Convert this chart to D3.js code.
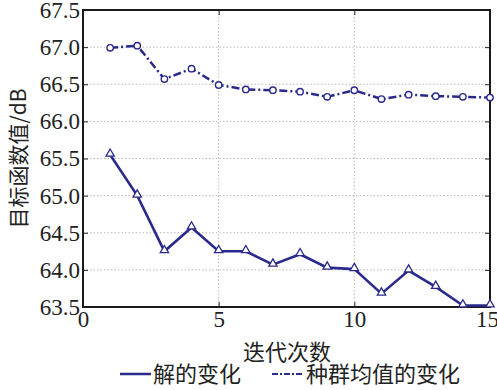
<!DOCTYPE html>
<html>
<head>
<meta charset="utf-8">
<script src="https://cdn.jsdelivr.net/npm/d3@7"></script>
<style>
  body { margin: 0; background: #fff; }
  svg text.num { font-family: "Liberation Serif", "Times New Roman", serif; }
</style>
</head>
<body>
<div id="chart"></div>
<script>
// donnees
var iterations = [1, 2, 3, 4, 5, 6, 7, 8, 9, 10, 11, 12, 13, 14, 15];
var solution = [65.55, 65.0, 64.25, 64.57, 64.25, 64.25, 64.07, 64.21, 64.03, 64.01, 63.68, 63.99, 63.77, 63.52, 63.52];
var popMean = [66.99, 67.02, 66.57, 66.71, 66.49, 66.43, 66.42, 66.40, 66.33, 66.42, 66.30, 66.36, 66.34, 66.33, 66.32];
var xTicks = [0, 5, 10, 15];
var yTicks = [63.5, 64.0, 64.5, 65.0, 65.5, 66.0, 66.5, 67.0, 67.5];
var seriesNames = ["解的变化", "种群均值的变化"];

var W = 497, H = 390;
var margin = {top: 10, right: 7, bottom: 83, left: 83};
var width = W - margin.left - margin.right,
    height = H - margin.top - margin.bottom;
var navy = "#2a2a8c";
var serif = "Liberation Serif";

var svg = d3.select("#chart").append("svg")
    .attr("width", W)
    .attr("height", H);

var g = svg.append("g")
    .attr("transform", "translate(" + margin.left + "," + margin.top + ")");

var x = d3.scaleLinear().domain([0, 15]).range([0, width]);
var y = d3.scaleLinear().domain([63.5, 67.5]).range([height, 0]);

// grille pointillee
g.append("g").selectAll("line")
    .data(yTicks.slice(1, -1))
    .enter().append("line")
    .attr("x1", 0).attr("x2", width)
    .attr("y1", function(d) { return y(d); })
    .attr("y2", function(d) { return y(d); })
    .attr("stroke", "#b8b8b8").attr("stroke-width", 1)
    .attr("stroke-dasharray", "1.5,2");
g.append("g").selectAll("line")
    .data(xTicks.slice(1, -1))
    .enter().append("line")
    .attr("y1", 0).attr("y2", height)
    .attr("x1", function(d) { return x(d); })
    .attr("x2", function(d) { return x(d); })
    .attr("stroke", "#b8b8b8").attr("stroke-width", 1)
    .attr("stroke-dasharray", "1.5,2");

// axes
var fmt = d3.format(".1f");
var yAxis = g.append("g")
    .call(d3.axisLeft(y).tickValues(yTicks).tickFormat(fmt).tickSize(-5).tickPadding(3));
var yAxisR = g.append("g")
    .attr("transform", "translate(" + width + ",0)")
    .call(d3.axisRight(y).tickValues(yTicks).tickFormat("").tickSize(-5));
var xAxis = g.append("g")
    .attr("transform", "translate(0," + height + ")")
    .call(d3.axisBottom(x).tickValues(xTicks).tickSize(-5).tickPadding(4));
var xAxisT = g.append("g")
    .call(d3.axisTop(x).tickValues(xTicks).tickFormat("").tickSize(-5));

[yAxis, yAxisR, xAxis, xAxisT].forEach(function(a) {
    a.select(".domain").remove();
    a.attr("font-family", serif).attr("font-size", 23);
    a.selectAll(".tick line").attr("stroke", "#222");
});
g.selectAll(".tick text")
    .attr("class", "num")
    .attr("fill", "#222")
    .attr("font-family", serif)
    .attr("font-size", 23);
xAxis.selectAll(".tick text").attr("dy", "0.68em");
xAxis.selectAll(".tick").filter(function(d) { return d === 15; }).select("text").attr("dx", "-3");

// cadre
g.append("rect")
    .attr("width", width).attr("height", height)
    .attr("fill", "none").attr("stroke", "#1a1a1a").attr("stroke-width", 2);

// courbes
var line = d3.line()
    .x(function(d, i) { return x(iterations[i]); })
    .y(function(d) { return y(d); });

g.append("path")
    .datum(popMean)
    .attr("fill", "none").attr("stroke", navy).attr("stroke-width", 2.5)
    .attr("stroke-dasharray", "8,3,2,3")
    .attr("d", line);

g.append("path")
    .datum(solution)
    .attr("fill", "none").attr("stroke", navy).attr("stroke-width", 2.6)
    .attr("d", line);

var tri = d3.symbol().type(d3.symbolTriangle).size(30);
g.selectAll(".tri")
    .data(solution)
    .enter().append("path")
    .attr("class", "tri")
    .attr("transform", function(d, i) { return "translate(" + x(iterations[i]) + "," + (y(d) - 1) + ")"; })
    .attr("d", tri)
    .attr("fill", "#fff").attr("stroke", navy).attr("stroke-width", 1.3);

g.selectAll(".circ")
    .data(popMean)
    .enter().append("circle")
    .attr("class", "circ")
    .attr("cx", function(d, i) { return x(iterations[i]); })
    .attr("cy", function(d) { return y(d); })
    .attr("r", 3.2)
    .attr("fill", "#fff").attr("stroke", navy).attr("stroke-width", 1.4);

// titres des axes
var cjk = '"Noto Sans CJK SC", sans-serif';
svg.append("text")
    .attr("x", 287).attr("y", 360)
    .attr("text-anchor", "middle")
    .style("font-family", cjk).style("font-size", "22px").attr("fill", "#222")
    .text("迭代次数");

svg.append("text")
    .attr("transform", "translate(26," + (margin.top + height / 2) + ") rotate(-90)")
    .attr("text-anchor", "middle")
    .style("font-family", cjk).style("font-size", "21px").attr("fill", "#222")
    .text("目标函数值/dB");

// legende
var leg = svg.append("g");
leg.append("line")
    .attr("x1", 120).attr("x2", 151).attr("y1", 374).attr("y2", 374)
    .attr("stroke", navy).attr("stroke-width", 2.5);
leg.append("text")
    .attr("x", 153).attr("y", 382)
    .style("font-family", cjk).style("font-size", "22px").attr("fill", "#222")
    .text(seriesNames[0]);
leg.append("line")
    .attr("x1", 272).attr("x2", 304).attr("y1", 374).attr("y2", 374)
    .attr("stroke", navy).attr("stroke-width", 2)
    .attr("stroke-dasharray", "6,2,2,2");
leg.append("text")
    .attr("x", 306).attr("y", 382)
    .style("font-family", cjk).style("font-size", "22px").attr("fill", "#222")
    .text(seriesNames[1]);
</script>
</body>
</html>
